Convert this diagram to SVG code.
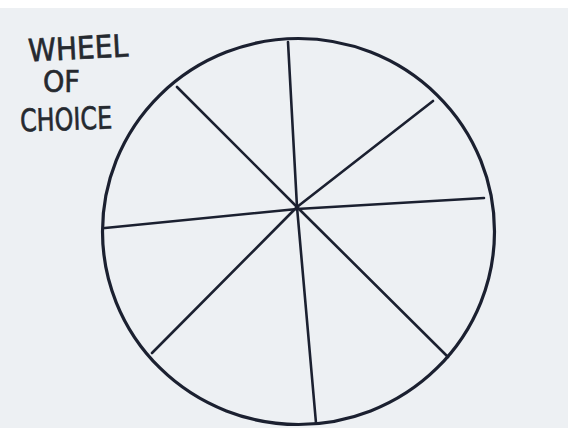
<svg xmlns="http://www.w3.org/2000/svg" width="568" height="428" viewBox="0 0 568 428">
<style>
.rim{fill:none;stroke:#1b2030;stroke-width:3.2}
.spoke{fill:none;stroke:#1b2030;stroke-width:2.6;stroke-linecap:round;stroke-linejoin:round}
.title{font-family:"DejaVu Sans Condensed","DejaVu Sans",sans-serif;font-size:31px;fill:#25292f;stroke:#25292f;stroke-width:0.6}
</style>
<rect x="0" y="0" width="568" height="428" fill="#edf0f3"/>
<rect x="0" y="0" width="568" height="8" fill="#ffffff"/>
<g id="title">
<text class="title" x="28" y="59" textLength="100" lengthAdjust="spacingAndGlyphs" transform="rotate(-3 78 47)">WHEEL</text>
<text class="title" x="43" y="92" textLength="37" lengthAdjust="spacingAndGlyphs">OF</text>
<text class="title" x="20" y="130" textLength="92" lengthAdjust="spacingAndGlyphs" transform="rotate(-2 66 117)">CHOICE</text>
</g>
<g id="wheel">
<ellipse class="rim" cx="298.5" cy="231.5" rx="196" ry="193"/>
</g>
<g id="spokes">
<polyline class="spoke" points="288,42 297,207 316,423"/>
<polyline class="spoke" points="105,228 297,209 484,198"/>
<polyline class="spoke" points="177,87 297,207 448,357"/>
<polyline class="spoke" points="433,101 297,207 152,353"/>
</g>
</svg>
